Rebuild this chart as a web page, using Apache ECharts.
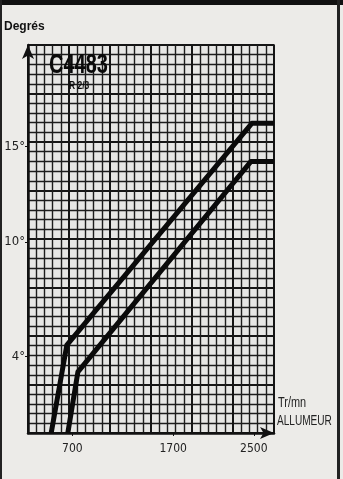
<!DOCTYPE html>
<html><head><meta charset="utf-8">
<script src="https://cdn.jsdelivr.net/npm/echarts@6/dist/echarts.min.js"></script>
<style>html,body{margin:0;padding:0;background:#ecebe8;}#c{width:343px;height:479px;}</style>
</head><body><div id="c"></div>
<script>
// Data
const xTickLabels = [700, 1700, 2500];            // Tr/mn allumeur
const yTickLabels = [4, 10, 15];                  // degrés
const upperCurve = [[490, 0], [645, 4.6], [2480, 16.2], [2700, 16.2]];
const lowerCurve = [[655, 0], [755, 3.2], [2470, 14.2], [2700, 14.2]];

const chart = echarts.init(document.getElementById('c'));
const font = '"DejaVu Sans Condensed", "Liberation Sans Narrow", "Liberation Sans", sans-serif';
const gridAxis = (max, interval) => ({
  type: 'value', min: 0, max: max, interval: interval,
  axisLine: {show: false}, axisTick: {show: false}, axisLabel: {show: false},
  minorTick: {show: false, splitNumber: 5},
  splitLine: {show: true, lineStyle: {color: '#151515', width: 2}},
  minorSplitLine: {show: true, lineStyle: {color: '#1c1c1c', width: 1.4}}
});
chart.setOption({
  backgroundColor: '#ecebe8',
  animation: false,
  grid: {left: 28, right: 69, top: 45, bottom: 46, show: true, borderColor: '#111', borderWidth: 1.5, backgroundColor: '#e6e6e4'},
  xAxis: [
    {type: 'value', min: 260, max: 2700, z: 5,
     axisLine: {show: true, symbol: ['none', 'arrow'], symbolSize: [9, 14], lineStyle: {color: '#111', width: 2.5}},
     axisTick: {show: true, customValues: xTickLabels, length: 3, lineStyle: {color: '#111'}},
     axisLabel: {customValues: xTickLabels, formatter: v => String(v), color: '#222', fontFamily: font, fontSize: 12, margin: 10},
     splitLine: {show: false}},
    Object.assign(gridAxis(30, 5), {position: 'top'})
  ],
  yAxis: [
    {type: 'value', min: 0, max: 20.3, z: 5,
     axisLine: {show: true, symbol: ['none', 'arrow'], symbolSize: [9, 14], lineStyle: {color: '#111', width: 2.5}},
     axisTick: {show: true, customValues: yTickLabels, length: 3, lineStyle: {color: '#111'}},
     axisLabel: {customValues: yTickLabels, formatter: v => v + '°', color: '#222', fontFamily: font, fontSize: 13, margin: 3},
     splitLine: {show: false}},
    Object.assign(gridAxis(40, 5), {position: 'right'})
  ],
  series: [
    {type: 'line', data: upperCurve, showSymbol: false, lineStyle: {color: '#0a0a0a', width: 5, join: 'round'}, z: 10},
    {type: 'line', data: lowerCurve, showSymbol: false, lineStyle: {color: '#0a0a0a', width: 5, join: 'round'}, z: 10}
  ],
  graphic: [
    {type: 'rect', shape: {x: 0, y: 0, width: 343, height: 5}, style: {fill: '#111'}},
    {type: 'rect', shape: {x: 0, y: 0, width: 2, height: 479}, style: {fill: '#222'}},
    {type: 'rect', shape: {x: 337, y: 0, width: 3, height: 479}, style: {fill: '#222'}},
    {type: 'text', x: 4, y: 21, style: {text: 'Degrés', font: 'bold 12px "Liberation Sans", sans-serif', fill: '#111'}},
    {type: 'text', x: 49, y: 52, scaleX: 0.74, z: 21, style: {text: 'C4483', font: 'bold 27px "Liberation Sans", sans-serif', fill: '#0a0a0a'}},
    {type: 'text', x: 69, y: 81, scaleX: 0.85, z: 21, style: {text: 'R 2/3', font: 'bold 10px "Liberation Sans", sans-serif', fill: '#0a0a0a'}},
    {type: 'text', x: 278, y: 396, scaleX: 0.78, style: {text: 'Tr/mn', font: '14px "Liberation Sans", sans-serif', fill: '#222'}},
    {type: 'text', x: 277, y: 414, scaleX: 0.72, style: {text: 'ALLUMEUR', font: '14px "Liberation Sans", sans-serif', fill: '#222'}}
  ]
});
</script></body></html>
